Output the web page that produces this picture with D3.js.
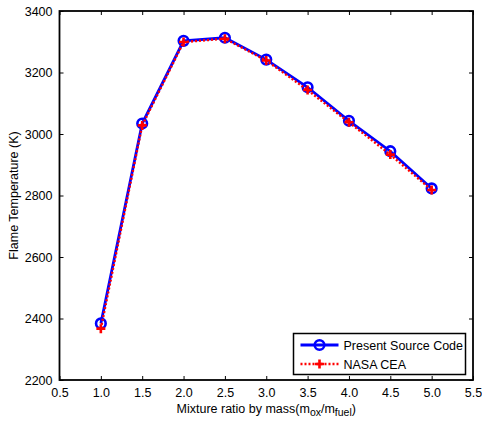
<!DOCTYPE html>
<html>
<head>
<meta charset="utf-8">
<script src="https://cdn.jsdelivr.net/npm/d3@7"></script>
<style>
  body { margin: 0; background: #fff; }
  text { font-family: "Liberation Sans", Arial, sans-serif; fill: #000; }
</style>
</head>
<body>
<div id="chart"></div>
<script>
// Data
var mixtureRatio = [1.0, 1.5, 2.0, 2.5, 3.0, 3.5, 4.0, 4.5, 5.0];
var presentCode  = [2384, 3034, 3303, 3313, 3242, 3152, 3043, 2944, 2823];
var nasaCea      = [2367, 3028, 3299, 3310, 3239, 3143, 3038, 2933, 2818];
var xTicks = [0.5, 1.0, 1.5, 2.0, 2.5, 3.0, 3.5, 4.0, 4.5, 5.0, 5.5];
var yTicks = [2200, 2400, 2600, 2800, 3000, 3200, 3400];
var seriesNames = ["Present Source Code", "NASA CEA"];

var W = 482, H = 421;
var margin = { top: 11, right: 9, bottom: 41, left: 59.5 };
var width = W - margin.left - margin.right,
    height = H - margin.top - margin.bottom;

var svg = d3.select("#chart").append("svg")
    .attr("width", W)
    .attr("height", H);

var g = svg.append("g")
    .attr("transform", "translate(" + margin.left + "," + margin.top + ")");

// Scales
var x = d3.scaleLinear().domain([0.5, 5.5]).range([0, width]);
var y = d3.scaleLinear().domain([2200, 3400]).range([height, 0]);

// Axes (MATLAB style: inward ticks on all sides)
var tickLen = 4;
g.append("g")
    .attr("transform", "translate(0," + height + ")")
    .call(d3.axisBottom(x).tickValues(xTicks).tickFormat(d3.format(".1f"))
        .tickSizeInner(-tickLen).tickSizeOuter(0).tickPadding(8))
    .call(function(a){ a.select(".domain").remove(); });

g.append("g")
    .call(d3.axisTop(x).tickValues(xTicks).tickFormat("")
        .tickSizeInner(-tickLen).tickSizeOuter(0))
    .call(function(a){ a.select(".domain").remove(); });

g.append("g")
    .call(d3.axisLeft(y).tickValues(yTicks).tickFormat(d3.format("d"))
        .tickSizeInner(-tickLen).tickSizeOuter(0).tickPadding(7))
    .call(function(a){ a.select(".domain").remove(); });

g.append("g")
    .attr("transform", "translate(" + width + ",0)")
    .call(d3.axisRight(y).tickValues(yTicks).tickFormat("")
        .tickSizeInner(-tickLen).tickSizeOuter(0))
    .call(function(a){ a.select(".domain").remove(); });

g.selectAll(".tick line").attr("stroke", "#000").attr("stroke-width", 1);
g.selectAll(".tick text")
    .style("font-family", "'Liberation Sans', Arial, sans-serif")
    .style("font-size", "12.5px")
    .attr("fill", "#222");

// Box
g.append("rect")
    .attr("width", width)
    .attr("height", height)
    .attr("fill", "none")
    .attr("stroke", "#000")
    .attr("stroke-width", 1.8);

// Lines
var blueData = mixtureRatio.map(function(d, i){ return { x: d, y: presentCode[i] }; });
var redData  = mixtureRatio.map(function(d, i){ return { x: d, y: nasaCea[i] }; });

var line = d3.line()
    .x(function(d){ return x(d.x); })
    .y(function(d){ return y(d.y); });

g.append("path")
    .datum(blueData)
    .attr("d", line)
    .attr("fill", "none")
    .attr("stroke", "#0000ff")
    .attr("stroke-width", 2.8);

g.selectAll(".blue-marker")
    .data(blueData)
    .enter().append("circle")
    .attr("class", "blue-marker")
    .attr("cx", function(d){ return x(d.x); })
    .attr("cy", function(d){ return y(d.y); })
    .attr("r", 4.8)
    .attr("fill", "none")
    .attr("stroke", "#0000ff")
    .attr("stroke-width", 2.6);

g.append("path")
    .datum(redData)
    .attr("d", line)
    .attr("fill", "none")
    .attr("stroke", "#ff0000")
    .attr("stroke-width", 2.4)
    .attr("stroke-dasharray", "2,2");

function plusPath(cx, cy, s) {
    return "M" + (cx - s) + "," + cy + "H" + (cx + s) + "M" + cx + "," + (cy - s) + "V" + (cy + s);
}

g.selectAll(".red-marker")
    .data(redData)
    .enter().append("path")
    .attr("class", "red-marker")
    .attr("d", function(d){ return plusPath(x(d.x), y(d.y), 4.5); })
    .attr("stroke", "#ff0000")
    .attr("stroke-width", 2.6)
    .attr("fill", "none");

// Legend
var lg = svg.append("g").attr("transform", "translate(293.5,333.5)");
lg.append("rect")
    .attr("width", 172)
    .attr("height", 41)
    .attr("fill", "#fff")
    .attr("stroke", "#000")
    .attr("stroke-width", 1.5);

var rows = [
    { name: seriesNames[0], color: "#0000ff", dash: null, w: 2.8, cy: 11.5 },
    { name: seriesNames[1], color: "#ff0000", dash: "2,2", w: 2.4, cy: 30.5 }
];
rows.forEach(function(r, i){
    lg.append("line")
        .attr("x1", 7).attr("x2", 45)
        .attr("y1", r.cy).attr("y2", r.cy)
        .attr("stroke", r.color)
        .attr("stroke-width", r.w)
        .attr("stroke-dasharray", r.dash);
    if (i === 0) {
        lg.append("circle")
            .attr("cx", 26).attr("cy", r.cy).attr("r", 4.8)
            .attr("fill", "none").attr("stroke", r.color).attr("stroke-width", 2.6);
    } else {
        lg.append("path")
            .attr("d", plusPath(26, r.cy, 4.5))
            .attr("stroke", r.color).attr("stroke-width", 2.6);
    }
    lg.append("text")
        .attr("x", 50)
        .attr("y", r.cy + 4.5)
        .style("font-size", "12.5px")
        .text(r.name);
});

// Axis labels
svg.append("text")
    .attr("transform", "translate(18," + (margin.top + height / 2) + ") rotate(-90)")
    .attr("text-anchor", "middle")
    .style("font-size", "12.5px")
    .text("Flame Temperature (K)");

var xl = svg.append("text")
    .attr("x", margin.left + width / 2)
    .attr("y", 413)
    .attr("text-anchor", "middle")
    .style("font-size", "12.5px");
xl.append("tspan").text("Mixture ratio by mass(m");
xl.append("tspan").attr("dy", 3).style("font-size", "10.5px").text("ox");
xl.append("tspan").attr("dy", -3).text("/m");
xl.append("tspan").attr("dy", 3).style("font-size", "10.5px").text("fuel");
xl.append("tspan").attr("dy", -3).text(")");
</script>
</body>
</html>
